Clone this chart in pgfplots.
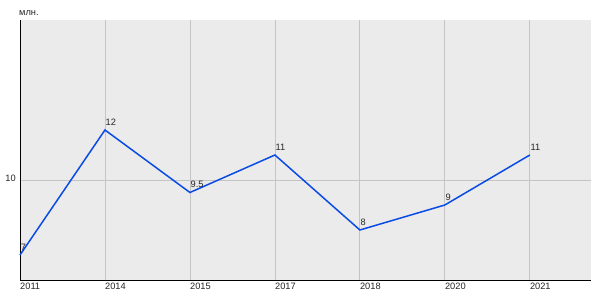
\documentclass[border=0pt]{standalone}
\usepackage{pgfplots}
\pgfplotsset{compat=1.18}
\usepackage{fontspec}
\setmainfont{Liberation Sans}
\definecolor{bg}{HTML}{EBEBEB}
\definecolor{gridc}{HTML}{C4C4C4}
\definecolor{lineblue}{HTML}{0A4BE6}
\begin{document}
\begin{tikzpicture}
\useasboundingbox (0,0) rectangle (600bp,300bp);
\begin{axis}[
  at={(20bp,20bp)}, anchor=south west,
  scale only axis, width=571bp, height=260bp,
  xmin=0, xmax=6.72, ymin=6, ymax=16.4,
  axis background/.style={fill=bg},
  axis x line*=bottom, axis y line*=left,
  axis line style={black, line width=0.9bp, -},
  xtick={0,1,2,3,4,5,6},
  xticklabels={2011,2014,2015,2017,2018,2020,2021},
  ytick={10},
  grid=major,
  major grid style={gridc, line width=0.8bp},
  major tick length=0pt,
  tick label style={font=\fontsize{9.3}{10}\selectfont, text=black!85},
  x tick label style={anchor=north west, inner sep=1bp, yshift=-2bp, xshift=-1bp},
  y tick label style={anchor=south east, inner sep=1bp, xshift=-3bp, yshift=-2.5bp},
  /pgf/number format/assume math mode=true,
  clip=false,
  nodes near coords,
  nodes near coords style={font=\fontsize{9.3}{10}\selectfont, text=black!85, anchor=south west, inner sep=1bp, xshift=-1bp, yshift=3bp},
  point meta=explicit symbolic,
]
\addplot[lineblue, line width=1.5bp, mark=none] coordinates {
 (0,7) [7] (1,12) [12] (2,9.5) [9.5] (3,11) [11] (4,8) [8] (5,9) [9] (6,11) [11]
};
\end{axis}
\node[anchor=south west, inner sep=0pt, font=\fontsize{9.3}{10}\selectfont, text=black!85] at (19bp,284bp) {млн.};
\end{tikzpicture}
\end{document}
